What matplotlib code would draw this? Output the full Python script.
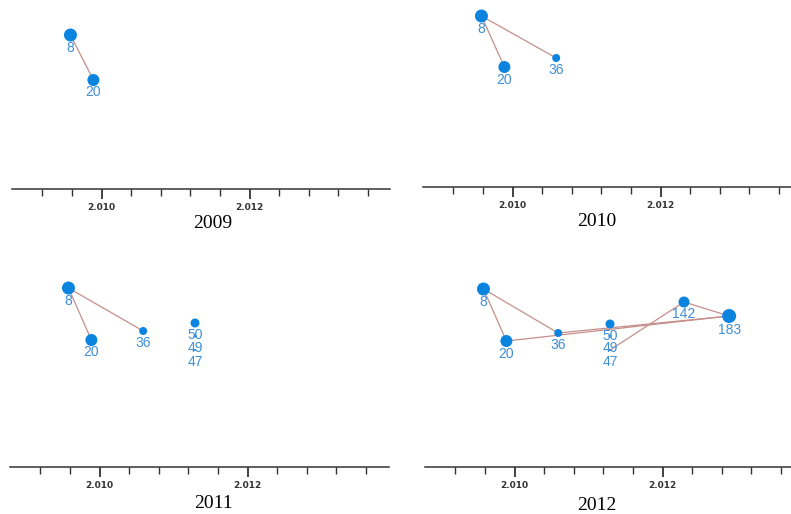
import numpy as np
import matplotlib
matplotlib.use("Agg")
import matplotlib.pyplot as plt
from matplotlib.ticker import FixedLocator, FuncFormatter

# nodes: label, year position, radius (px)
node_names = ["8", "20", "36", "50", "49", "47", "142", "183"]
node_year = [2009.58, 2009.89, 2010.59, 2011.29, 2011.29, 2011.29, 2012.29, 2012.90]
node_radius = [6.5, 6.0, 4.0, 4.5, 1.5, 1.0, 5.5, 7.0]

# snapshots: which nodes exist, their height above the axis, and the links
snap_titles = ["2009", "2010", "2011", "2012"]
snap_nodes = [
    ["8", "20"],
    ["8", "20", "36"],
    ["8", "20", "36", "50", "49", "47"],
    ["8", "20", "36", "50", "49", "47", "142", "183"],
]
snap_height = [
    [154, 109],
    [171, 120, 129],
    [179, 127, 136, 144, 131, 117],
    [178, 126, 134, 143, 131, 117, 165, 151],
]
snap_links = [
    [("8", "20")],
    [("8", "20"), ("8", "36")],
    [("8", "20"), ("8", "36")],
    [("8", "20"), ("8", "36"), ("20", "183"), ("36", "183"),
     ("47", "142"), ("142", "183")],
]

W, H = 791, 514
fig = plt.figure(figsize=(W / 100, H / 100), dpi=100)

# panel frames in pixels: left, right, axis line y, top y
frames = [(12, 390, 189, 0), (423, 791, 187, 0), (10, 389, 467, 260), (425, 791, 467, 260)]
title_pos = [(213, 224), (597, 222), (213, 504), (597, 505)]
px_per_year = 74.0
x0 = 2008.79

node_col = "#0b84e0"
text_col = "#3f8fd8"
link_col = "#c48f8c"

for k in range(4):
    l, r, ay, ty = frames[k]
    ax = fig.add_axes([l / W, (H - ay) / H, (r - l) / W, (ay - ty) / H])
    ax.set_xlim(x0, x0 + (r - l) / px_per_year)
    ax.set_ylim(0, ay - ty)
    for s in ["top", "right", "left"]:
        ax.spines[s].set_visible(False)
    ax.spines["bottom"].set_color("#333333")
    ax.spines["bottom"].set_linewidth(1.1)
    ax.set_yticks([])
    ax.set_facecolor("none")
    ax.xaxis.set_major_locator(FixedLocator([2010, 2012]))
    ax.xaxis.set_minor_locator(FixedLocator(np.arange(2009.2, 2013.7, 0.4)))
    ax.xaxis.set_major_formatter(FuncFormatter(lambda v, p: "{:,.0f}".format(v).replace(",", ".")))
    ax.tick_params(axis="x", which="major", length=7, width=1.3, color="#333333",
                   labelsize=6.5, labelcolor="#333333", pad=3)
    ax.tick_params(axis="x", which="minor", length=5, width=1.0, color="#333333")
    for lab in ax.get_xticklabels():
        lab.set_fontweight("bold")

    names = snap_nodes[k]
    hts = dict(zip(names, snap_height[k]))
    for a, b in snap_links[k]:
        ia, ib = node_names.index(a), node_names.index(b)
        ax.plot([node_year[ia], node_year[ib]], [hts[a], hts[b]],
                color=link_col, lw=0.9, zorder=1)
    for n in names:
        i = node_names.index(n)
        rad = node_radius[i]
        ax.scatter(node_year[i], hts[n], s=(2 * rad * 0.72) ** 2, color=node_col,
                   edgecolors="none", zorder=2)
        off = max(rad + 6.5, 12)
        ax.annotate(n, (node_year[i], hts[n]), xytext=(0, -off * 0.72),
                    textcoords="offset points", ha="center", va="center",
                    fontsize=10, color=text_col, family="Liberation Sans", zorder=3)

    tx, tyy = title_pos[k]
    fig.text(tx / W, 1 - tyy / H, snap_titles[k], ha="center", va="center",
             fontsize=14, family="Liberation Serif", color="black")

fig.savefig("out.png", dpi=100)
